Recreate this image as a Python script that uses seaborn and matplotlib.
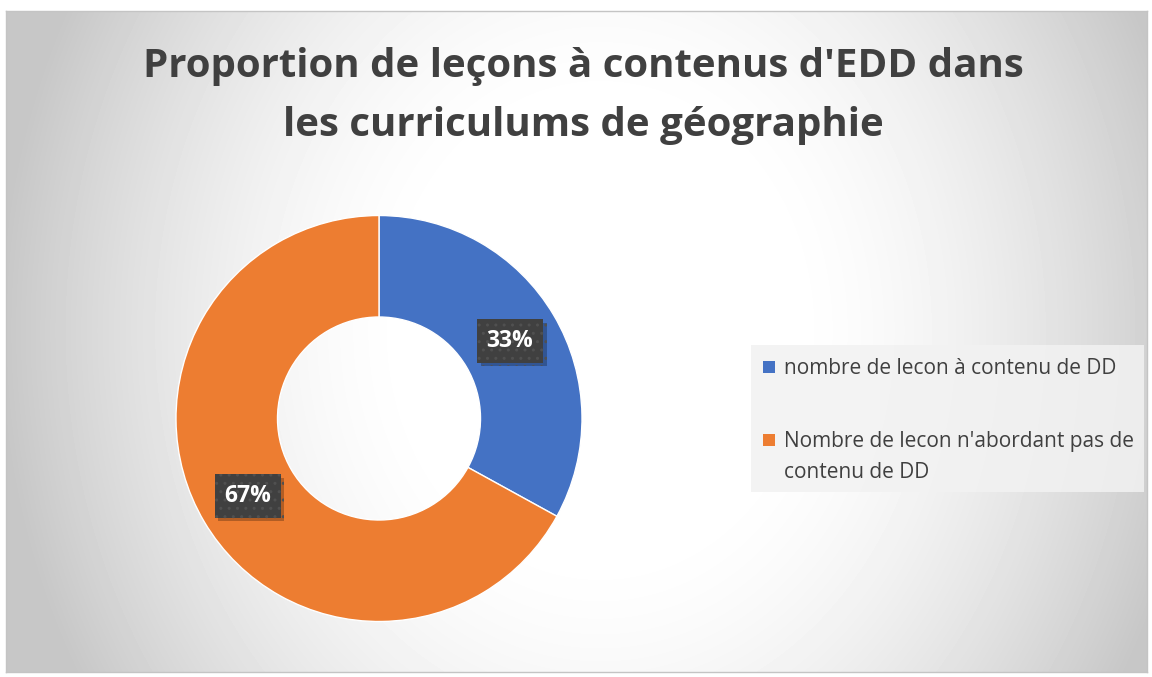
import numpy as np
import matplotlib
matplotlib.use("Agg")
import matplotlib.pyplot as plt
import matplotlib.patches as mpatches
import matplotlib.patheffects as pe
import seaborn as sns

# ---- data ----
categories = ["nombre de lecon à contenu de DD",
              "Nombre de lecon n'abordant pas de\ncontenu de DD"]
shares = [33, 67]
title = "Proportion de leçons à contenus d'EDD dans\nles curriculums de géographie"

BLUE, ORANGE, INK = "#4472C4", "#ED7D31", "#404040"
sns.set_theme(style="white")
plt.rcParams["font.family"] = ["Open Sans", "DejaVu Sans"]

W, H = 1152, 677
fig = plt.figure(figsize=(W / 100, H / 100), dpi=100, facecolor="white")

# ---- chart area with radial gradient ----
x0, y0, x1, y1 = 6, 11, 1147, 672
bg = fig.add_axes([x0 / W, 1 - y1 / H, (x1 - x0) / W, (y1 - y0) / H])
gx, gy = np.meshgrid(np.arange(x0, x1), np.arange(y0, y1))
d = np.hypot((gx - 600) / 600, (gy - 330) / 700)
val = 1.0 - 0.22 * np.clip((d - 0.3) / 0.7, 0, 1) ** 1.6
bg.imshow(val, cmap="gray", vmin=0, vmax=1, aspect="auto",
          extent=[0, 1, 0, 1], interpolation="bilinear")
bg.set_xlim(0, 1); bg.set_ylim(0, 1)
bg.set_xticks([]); bg.set_yticks([])
for s in bg.spines.values():
    s.set_color("#c4c4c4"); s.set_linewidth(1)

# overlay in pixel coordinates for title + legend
ov = fig.add_axes([0, 0, 1, 1])
ov.set_xlim(0, W); ov.set_ylim(H, 0); ov.set_axis_off()
ov.text(583, 96, title, ha="center", va="center", fontsize=29,
        fontweight="bold", color=INK, linespacing=1.68)

# ---- donut ----
cx, cy, r = 379, 418.5, 203
ax = fig.add_axes([(cx - r) / W, 1 - (cy + r) / H, 2 * r / W, 2 * r / H])
ax.set_axis_off()
wedges, _, autotexts = ax.pie(
    shares, colors=[BLUE, ORANGE], startangle=90, counterclock=False,
    radius=1, autopct="%d%%", pctdistance=0.75,
    wedgeprops=dict(width=0.5, edgecolor="white", linewidth=1),
    textprops=dict(color="white", fontsize=16.5, fontweight="bold"))
ax.set_xlim(-1, 1); ax.set_ylim(-1, 1)
for t in autotexts:
    t.set_bbox(dict(boxstyle="square,pad=0.42", facecolor="#404040",
                    edgecolor="#505050", hatch="..", linewidth=0))
    t.get_bbox_patch().set_path_effects(
        [pe.SimplePatchShadow(offset=(2.5, -2.5), shadow_rgbFace="black", alpha=0.25),
         pe.Normal()])

# ---- legend ----
ov.add_patch(mpatches.Rectangle((751, 345), 393, 147, facecolor="#f2f2f2",
                                edgecolor="none", alpha=0.85))
for i, (lab, col) in enumerate(zip(categories, (BLUE, ORANGE))):
    ty = 367 + i * 73
    ov.add_patch(mpatches.Rectangle((763, ty - 6), 12, 12, facecolor=col, edgecolor="none"))
    ov.text(784, ty - 9, lab, ha="left", va="top", fontsize=15, color=INK,
            linespacing=1.62)

fig.savefig("out.png", dpi=100, facecolor="white")
